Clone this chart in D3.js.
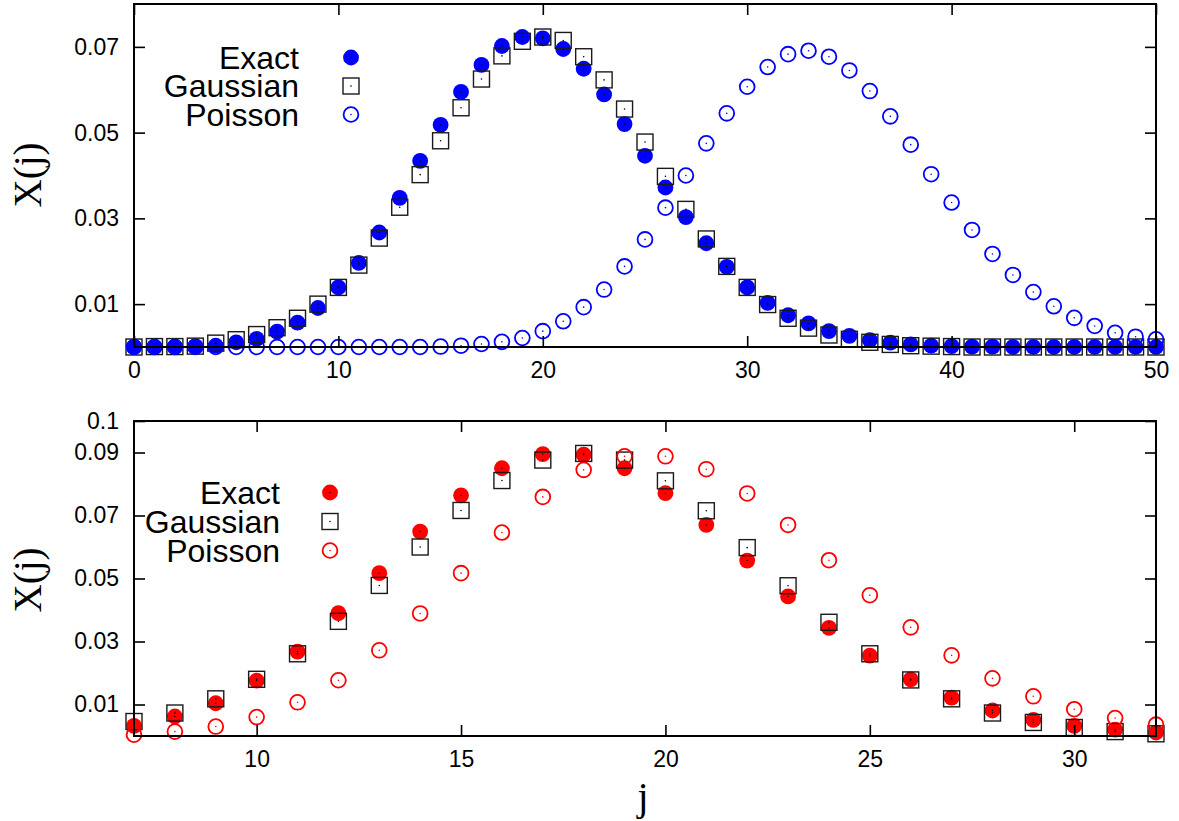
<!DOCTYPE html>
<html>
<head>
<meta charset="utf-8">
<script src="https://cdn.jsdelivr.net/npm/d3@7"></script>
<style>
  html, body { margin: 0; padding: 0; background: #fff; }
  svg { display: block; }
  text { font-family: "Liberation Sans", Arial, Helvetica, sans-serif; fill: #000; }
  .serif { font-family: "Liberation Serif", "Times New Roman", serif; }
</style>
</head>
<body>
<svg id="chart" width="1179" height="821"></svg>
<script>
// ---- upper panel: j = 0 .. 50 ----
const jTop = d3.range(0, 51);
const exactTop = [
  0.0000, 0.0000, 0.0001, 0.0002, 0.0003, 0.0011, 0.0019, 0.0036, 0.0057, 0.0091,
  0.0139, 0.0196, 0.0267, 0.0348, 0.0434, 0.0518, 0.0595, 0.0658, 0.0702, 0.0723,
  0.0720, 0.0695, 0.0649, 0.0589, 0.0520, 0.0446, 0.0372, 0.0303, 0.0242, 0.0187,
  0.0139, 0.0103, 0.0074, 0.0055, 0.0037, 0.0026, 0.0016, 0.0010, 0.0006, 0.0003,
  0.0002, 0.0001, 0.0001, 0.0000, 0.0000, 0.0000, 0.0000, 0.0000, 0.0000, 0.0000,
  0.0000
];
const gaussTop = [
  0.0000, 0.0001, 0.0001, 0.0002, 0.0009, 0.0017, 0.0029, 0.0045, 0.0067, 0.0100,
  0.0139, 0.0191, 0.0254, 0.0326, 0.0402, 0.0481, 0.0558, 0.0625, 0.0679, 0.0713,
  0.0723, 0.0715, 0.0677, 0.0623, 0.0555, 0.0478, 0.0398, 0.0321, 0.0252, 0.0188,
  0.0139, 0.0099, 0.0067, 0.0044, 0.0028, 0.0018, 0.0011, 0.0006, 0.0003, 0.0002,
  0.0001, 0.0000, 0.0000, 0.0000, 0.0000, 0.0000, 0.0000, 0.0000, 0.0000, 0.0000,
  0.0000
];
const poissonTop = [
  0.0000, 0.0000, 0.0000, 0.0000, 0.0000, 0.0000, 0.0000, 0.0000, 0.0000, 0.0000,
  0.0000, 0.0000, 0.0000, 0.0000, 0.0000, 0.0001, 0.0003, 0.0007, 0.0012, 0.0021,
  0.0037, 0.0060, 0.0093, 0.0134, 0.0188, 0.0251, 0.0325, 0.0400, 0.0475, 0.0545,
  0.0607, 0.0653, 0.0683, 0.0691, 0.0677, 0.0645, 0.0597, 0.0538, 0.0472, 0.0403,
  0.0337, 0.0273, 0.0217, 0.0168, 0.0128, 0.0095, 0.0068, 0.0049, 0.0033, 0.0024,
  0.0018
];
const xLabelsTop = [0, 10, 20, 30, 40, 50];
const yLabelsTop = [0.01, 0.03, 0.05, 0.07];

// ---- lower panel: j = 7 .. 32 ----
const jBot = d3.range(7, 33);
const exactBot = [
  0.0032, 0.0062, 0.0104, 0.0176, 0.0268, 0.0390, 0.0517, 0.0649, 0.0764, 0.0850,
  0.0895, 0.0893, 0.0850, 0.0771, 0.0670, 0.0557, 0.0443, 0.0343, 0.0255, 0.0180,
  0.0122, 0.0081, 0.0051, 0.0032, 0.0020, 0.0011
];
const gaussBot = [
  0.0046, 0.0073, 0.0118, 0.0180, 0.0261, 0.0364, 0.0478, 0.0600, 0.0716, 0.0811,
  0.0876, 0.0897, 0.0876, 0.0810, 0.0715, 0.0598, 0.0477, 0.0361, 0.0261, 0.0178,
  0.0118, 0.0073, 0.0043, 0.0027, 0.0014, 0.0007
];
const poissonBot = [
  0.0004, 0.0014, 0.0030, 0.0060, 0.0107, 0.0177, 0.0272, 0.0389, 0.0517, 0.0646,
  0.0759, 0.0845, 0.0888, 0.0888, 0.0847, 0.0770, 0.0670, 0.0558, 0.0447, 0.0345,
  0.0256, 0.0183, 0.0126, 0.0085, 0.0057, 0.0036
];
const xLabelsBot = [10, 15, 20, 25, 30];
const yLabelsBot = [0.1, 0.09, 0.07, 0.05, 0.03, 0.01];

const seriesNames = ["Exact", "Gaussian", "Poisson"];

const svg = d3.select("#chart");
const left = 134, right = 1156;
const TICK = 11;
const fmt = v => String(+v.toFixed(2));

function marker(g, kind, color, x, y) {
  if (kind === "Exact") {
    g.append("circle").attr("cx", x).attr("cy", y).attr("r", 7.9).attr("fill", color);
    g.append("circle").attr("cx", x).attr("cy", y).attr("r", 0.7).attr("fill", "#000");
  } else if (kind === "Gaussian") {
    g.append("rect").attr("x", x - 8).attr("y", y - 8).attr("width", 16).attr("height", 16)
      .attr("fill", "none").attr("stroke", "#1a1a1a").attr("stroke-width", 1.4);
    g.append("circle").attr("cx", x).attr("cy", y).attr("r", 0.8).attr("fill", "#000");
  } else {
    g.append("circle").attr("cx", x).attr("cy", y).attr("r", 7.4)
      .attr("fill", "none").attr("stroke", color).attr("stroke-width", 1.8);
    g.append("circle").attr("cx", x).attr("cy", y).attr("r", 0.8).attr("fill", color);
  }
}

function panel(cfg) {
  const x = d3.scaleLinear().domain(cfg.xDomain).range([left, right]);
  const y = d3.scaleLinear().domain(cfg.yDomain).range([cfg.bottom, cfg.top]);
  const g = svg.append("g");

  // data points: exact, then gaussian, then poisson on top
  const series = [cfg.exact, cfg.gauss, cfg.poisson];
  seriesNames.forEach((name, k) => {
    const sg = g.append("g");
    cfg.js.forEach((j, i) => marker(sg, name, cfg.color, x(j), y(series[k][i])));
  });

  // axes with inward ticks
  const ax = g.append("g").attr("class", "axes");
  ax.append("g").attr("transform", `translate(0,${cfg.bottom})`)
    .call(d3.axisBottom(x).tickValues(cfg.xLabels).tickSizeInner(-TICK).tickSizeOuter(0).tickPadding(14.5).tickFormat(d3.format("d")));
  ax.append("g").attr("transform", `translate(0,${cfg.top})`)
    .call(d3.axisTop(x).tickValues(cfg.xLabels).tickSizeInner(-TICK).tickSizeOuter(0).tickFormat(""));
  ax.append("g").attr("transform", `translate(${left},0)`)
    .call(d3.axisLeft(y).tickValues(cfg.yLabels).tickSizeInner(-TICK).tickSizeOuter(0).tickPadding(15).tickFormat(fmt));
  ax.append("g").attr("transform", `translate(${right},0)`)
    .call(d3.axisRight(y).tickValues(cfg.yLabels).tickSizeInner(-TICK).tickSizeOuter(0).tickFormat(""));
  ax.selectAll(".domain").remove();
  ax.selectAll(".tick line").attr("stroke", "#000").attr("stroke-width", 1.6);
  ax.selectAll(".tick text").attr("font-size", 23).attr("fill", "#000")
    .attr("font-family", "Liberation Sans, Arial, sans-serif");

  // frame
  g.append("rect").attr("x", left).attr("y", cfg.top)
    .attr("width", right - left).attr("height", cfg.bottom - cfg.top)
    .attr("fill", "none").attr("stroke", "#000").attr("stroke-width", 2);

  // y title
  g.append("text").attr("class", "serif")
    .attr("transform", `translate(41,${cfg.yTitleY}) rotate(-90)`)
    .attr("text-anchor", "middle").attr("font-size", 39).text("X(j)");

  // legend
  const lg = g.append("g");
  seriesNames.forEach((name, k) => {
    const ly = cfg.legendY + k * cfg.legendStep;
    lg.append("text").attr("x", cfg.legendTextX).attr("y", ly + 11)
      .attr("text-anchor", "end").attr("font-size", 32).text(name);
    marker(lg, name, cfg.color, cfg.legendMarkX, ly);
  });
  return { x, y };
}

panel({
  xDomain: [0, 50], yDomain: [0, 0.08], top: 4, bottom: 347,
  js: jTop, exact: exactTop, gauss: gaussTop, poisson: poissonTop,
  xLabels: xLabelsTop, yLabels: yLabelsTop, color: "#0000ff",
  yTitleY: 175, legendY: 57.5, legendStep: 28.5, legendTextX: 299, legendMarkX: 351
});

panel({
  xDomain: [7, 32], yDomain: [0, 0.1], top: 421, bottom: 736,
  js: jBot, exact: exactBot, gauss: gaussBot, poisson: poissonBot,
  xLabels: xLabelsBot, yLabels: yLabelsBot, color: "#ff0000",
  yTitleY: 580, legendY: 492.5, legendStep: 29, legendTextX: 280, legendMarkX: 330
});

// x title
svg.append("text").attr("class", "serif")
  .attr("x", 643).attr("y", 810).attr("text-anchor", "middle")
  .attr("font-size", 40).text("j");
</script>
</body>
</html>
